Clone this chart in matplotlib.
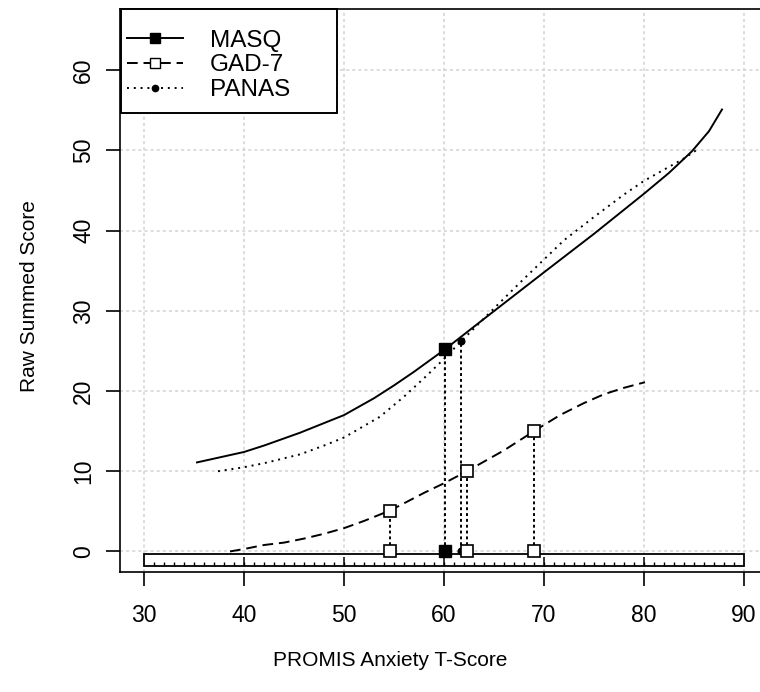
import matplotlib
matplotlib.use("Agg")
import matplotlib.pyplot as plt
from matplotlib.lines import Line2D
from matplotlib.patches import Rectangle
import numpy as np

plt.rcParams['font.family'] = ['Liberation Sans', 'DejaVu Sans']

# curves (T-score -> raw summed score)
masq_t = [35.3, 40, 42, 45.6, 48, 50, 53, 55, 57, 60.1, 63.9, 67, 70, 75, 80, 82.5, 84.8, 86.5, 87.8]
masq_raw = [11.1, 12.4, 13.2, 14.8, 16.0, 17.0, 19.1, 20.7, 22.4, 25.2, 28.9, 31.9, 34.8, 39.6, 44.6, 47.2, 49.9, 52.4, 55.1]

panas_t = [37.4, 40, 42, 45.6, 48, 50, 53.6, 56, 58, 60, 61.7, 63, 65, 68, 70, 72, 75, 78, 80, 82, 84, 85.2]
panas_raw = [10.0, 10.5, 11.0, 12.1, 13.2, 14.2, 16.8, 19.3, 21.6, 24.0, 26.2, 27.8, 30.3, 34.0, 36.4, 38.8, 41.7, 44.5, 46.2, 47.6, 49.0, 50.0]

gad_t = [38.6, 40, 42, 44, 46, 48, 50, 52, 54.6, 56, 58, 60, 62.3, 64, 66, 69, 71.6, 74, 76, 78, 80.1]
gad_raw = [0.0, 0.3, 0.8, 1.1, 1.6, 2.2, 2.9, 3.8, 5.1, 6.0, 7.3, 8.5, 10.0, 11.2, 12.6, 15.0, 17.0, 18.5, 19.6, 20.4, 21.1]

# highlighted points
masq_pts_t = [60.1]
masq_pts_raw = [25.2]
panas_pts_t = [61.7]
panas_pts_raw = [26.2]
gad_pts_t = [54.6, 62.3, 69.0]
gad_pts_raw = [5, 10, 15]

xticks = [30, 40, 50, 60, 70, 80, 90]
yticks = [0, 10, 20, 30, 40, 50, 60]
labels = ["MASQ", "GAD-7", "PANAS"]

fig = plt.figure(figsize=(7.6, 6.92), dpi=100)
ax = fig.add_axes([0.1579, 0.173, 0.8526, 0.8136])
ax.set_xlim(27.6, 92.4)
ax.set_ylim(-2.6, 67.6)

ax.set_xticks(xticks)
ax.set_yticks(yticks)
ax.grid(color='#d3d3d3', linestyle=(0, (2, 2)), linewidth=1.1)
ax.set_axisbelow(True)

dot = (0, (1, 2.5))
dash = (0, (5.5, 3))
lw = 1.4

ax.plot(masq_t, masq_raw, color='black', lw=lw, ls='-')
ax.plot(gad_t, gad_raw, color='black', lw=lw, ls=dash)
ax.plot(panas_t, panas_raw, color='black', lw=lw, ls=dot)

# ruler along the bottom
lo, hi = xticks[0], xticks[-1]
ax.add_patch(Rectangle((lo, -1.78), hi - lo, 1.49, fc='white', ec='black', lw=1.3, zorder=3))
minor = np.arange(lo + 1, hi)
ax.vlines(minor, -1.78, -1.32, color='black', lw=1.0, zorder=4)
ax.vlines(xticks[1:-1], -1.78, -0.75, color='black', lw=1.1, zorder=4)

# drop lines from points to zero
all_t = masq_pts_t + panas_pts_t + gad_pts_t
all_r = masq_pts_raw + panas_pts_raw + gad_pts_raw
ax.vlines(all_t, 0, all_r, color='black', lw=1.4, linestyles=(0, (1.5, 1.5)), zorder=4)

ax.plot(masq_pts_t, masq_pts_raw, 's', color='black', ms=8, zorder=5)
ax.plot(masq_pts_t, [0] * len(masq_pts_t), 's', color='black', ms=8, zorder=5)
ax.plot(panas_pts_t, panas_pts_raw, 'o', color='black', ms=4.8, zorder=5)
ax.plot(panas_pts_t, [0] * len(panas_pts_t), 'o', color='black', ms=4.8, zorder=5)
ax.plot(gad_pts_t, gad_pts_raw, 's', mfc='white', mec='black', mew=1.2, ms=8, zorder=6)
ax.plot(gad_pts_t, [0] * len(gad_pts_t), 's', mfc='white', mec='black', mew=1.2, ms=8, zorder=6)

for s in ax.spines.values():
    s.set_linewidth(1.2)
ax.tick_params(length=10, width=1.2, labelsize=16.5, color='black')
ax.tick_params(axis='x', pad=13)
ax.tick_params(axis='y', pad=8)
for t in ax.get_yticklabels():
    t.set_rotation(90)
    t.set_va('center')

ax.set_xlabel("PROMIS Anxiety T-Score", fontsize=15)
ax.set_ylabel("Raw Summed Score", fontsize=15)
ax.xaxis.set_label_coords(0.4167, -0.14)
ax.yaxis.set_label_coords(-0.125, 0.49)

# legend box
ax.add_patch(Rectangle((0.001, 0.8163), 0.3333, 0.1837, transform=ax.transAxes,
                       fc='white', ec='black', lw=1.4, zorder=7, clip_on=False))
handles = [
    Line2D([], [], color='black', lw=lw, ls='-', marker='s', ms=7.5),
    Line2D([], [], color='black', lw=lw, ls=dash, marker='s', mfc='white', mec='black', ms=7),
    Line2D([], [], color='black', lw=lw, ls=dot, marker='o', ms=4.5),
]
leg = ax.legend(handles, labels, loc='upper left', bbox_to_anchor=(0.0, 0.977),
                frameon=False, fontsize=17.5, handlelength=2.3, handletextpad=1.1,
                labelspacing=0.12, borderpad=0.3, borderaxespad=0.0)
leg.set_zorder(8)

fig.savefig("out.png", dpi=100)
